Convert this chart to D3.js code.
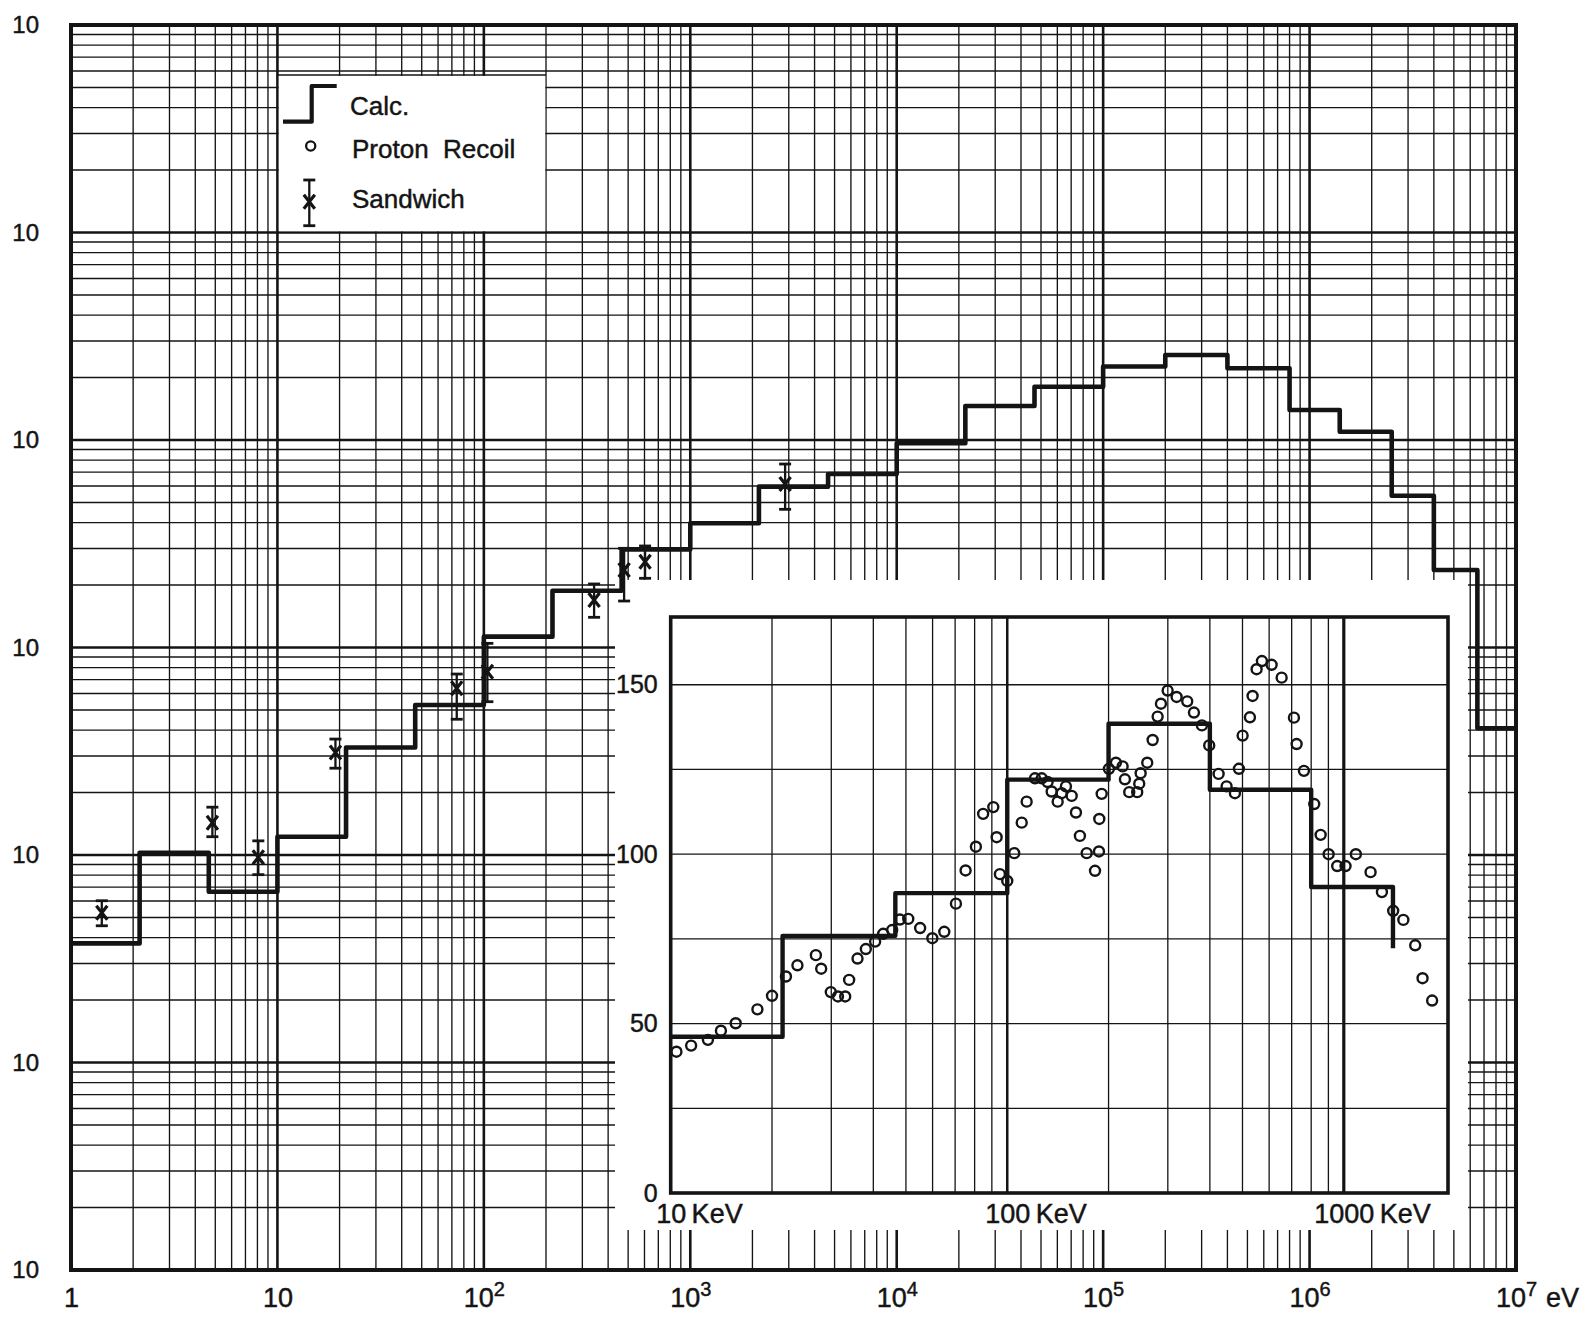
<!DOCTYPE html>
<html>
<head>
<meta charset="utf-8">
<script src="https://cdn.jsdelivr.net/npm/d3@7"></script>
<style>
  html, body { margin: 0; padding: 0; background: #fff; }
  svg { display: block; }
</style>
</head>
<body>
<svg id="chart" width="1584" height="1323"></svg>
<script>
// ---- Main panel: calculated group spectrum (26-group structure, eV) ----
const calcEdges = [1, 2.15, 4.65, 10, 21.5, 46.5, 100, 215, 465, 1000, 2150, 4650,
  1e4, 2.15e4, 4.65e4, 1e5, 2e5, 4e5, 8e5, 1.4e6, 2.5e6, 4e6, 6.5e6, 1e7];
const calcFlux = [37.5, 102.6, 66.5, 122.5, 329.5, 528, 1128, 1878, 2972, 3970, 5960,
  6860, 9640, 14580, 18070, 22600, 25700, 22170, 13950, 10960, 5390, 2362, 408];

// ---- Main panel: sandwich foil measurements with error bars ----
const sandwichE    = [1.41, 4.84, 8.08, 19.1, 73.9, 104, 342, 478, 604, 2880];
const sandwichFlux = [52.7, 143, 97.5, 312, 636, 764, 1694, 2362, 2592, 6140];
const sandwichLow  = [45.6, 122.5, 80.4, 262, 451, 548, 1398, 1675, 2155, 4634];
const sandwichHigh = [60.2, 170, 117, 362, 745, 1047, 2024, 3006, 3085, 7660];

// ---- Main panel tick labels ----
const xDecades = [1, 10, 1e2, 1e3, 1e4, 1e5, 1e6, 1e7];
const xTickBase = ["1", "10", "10", "10", "10", "10", "10", "10"];
const xTickSup  = ["", "", "2", "3", "4", "5", "6", "7"];
const yDecades = [1, 10, 1e2, 1e3, 1e4, 1e5, 1e6];
const yTickLabels = ["10", "10", "10", "10", "10", "10", "10"];

// ---- Inset: linear spectrum 10 keV .. 2 MeV ----
const insetEdges = [10, 21.5, 46.5, 100, 200, 400, 800, 1400];   // keV
const insetCalc  = [46.1, 75.9, 88.5, 122.0, 138.5, 119.0, 90.3];
const insetCalcTail = 72.2;                                       // end of last drop
const recoilE = [10.4, 11.5, 12.9, 14.1, 15.6, 18.1, 20.0, 22.0, 23.8, 27.0,
  28.0, 29.9, 31.4, 33.0, 33.9, 35.9, 38.0, 40.5, 42.8, 45.5,
  48.0, 50.8, 55.1, 59.9, 65.0, 70.4, 75.2, 80.7, 84.8, 90.9,
  93.0, 95.1, 100, 104.9, 110.4, 114.2, 120.9, 126.6, 131.8, 135.5,
  141.2, 145.1, 149.4, 155.4, 160.0, 164.4, 172.2, 182.3, 187.3, 187.7,
  190.8, 200.5, 210.3, 220.2, 223.7, 230.4, 243.3, 246.7, 249.1, 260.6,
  270.4, 279.8, 286.2, 299.6, 318.6, 342.6, 358.7, 378.8, 398.2, 424.6,
  448.5, 474.8, 488.0, 500.5, 526.1, 535.8, 550.7, 571.1, 610.3, 653.6,
  711.0, 724.2, 761.3, 816.9, 853.4, 901.4, 955.9, 1012, 1086, 1201,
  1298, 1402, 1503, 1630, 1714, 1830];
const recoilFlux = [41.7, 43.5, 45.2, 47.9, 50.1, 54.2, 58.2, 63.9, 67.2, 70.2,
  66.2, 59.3, 58.0, 58.0, 62.9, 69.2, 72.0, 74.2, 76.5, 77.6,
  80.7, 80.9, 78.2, 75.2, 77.1, 85.4, 95.2, 102.2, 111.9, 113.9,
  105.0, 94.1, 92.1, 100.3, 109.3, 115.5, 122.4, 122.4, 121.3, 118.5,
  115.5, 118.0, 120.0, 117.2, 112.3, 105.4, 100.3, 95.1, 100.8, 110.4,
  117.8, 125.2, 127.0, 125.9, 122.1, 118.3, 118.3, 120.8, 123.9, 127.0,
  133.7, 140.6, 144.4, 148.3, 146.4, 145.1, 141.8, 138.0, 132.1, 123.7,
  120.0, 118.0, 125.2, 135.0, 140.4, 146.7, 154.6, 157.0, 155.9, 152.1,
  140.3, 132.5, 124.6, 114.8, 105.7, 100.0, 96.5, 96.5, 100.0, 94.7,
  88.8, 83.3, 80.6, 73.1, 63.4, 56.8];
const insetYTicks = [0, 50, 100, 150];
const insetXTicks = [10, 100, 1000];
const insetXLabels = ["10", "100", "1000"];
const insetXUnit = "KeV";

const legendLabels = ["Calc.", "Proton  Recoil", "Sandwich"];

// ---------------------------------------------------------------------
const INK = "#141414";
const fontNarrow = "'Liberation Sans Narrow', 'Liberation Sans', Arial, sans-serif";
const fontRegular = "'Liberation Sans', Arial, sans-serif";

const svg = d3.select("#chart");

// printed text is slightly heavier than the plain face
function inkText(sel) {
  sel.attr("fill", INK).attr("stroke", INK).attr("stroke-width", 0.45);
}

// main plot area
const M = { left: 71, right: 1516, top: 25, bottom: 1270 };
const x = d3.scaleLog().domain([1, 1e7]).range([M.left, M.right]);
const y = d3.scaleLog().domain([1, 1e6]).range([M.bottom, M.top]);

// ---- log-paper grid ----
const grid = svg.append("g").attr("stroke", INK);
for (let d = 0; d < 7; d++) {
  for (let k = 1; k <= 9; k++) {
    const v = k * Math.pow(10, d);
    if (v <= 1 || v >= 1e7) continue;
    grid.append("line")
      .attr("x1", x(v)).attr("x2", x(v))
      .attr("y1", M.top).attr("y2", M.bottom)
      .attr("stroke-width", k === 1 ? 2.6 : 1.35);
  }
}
for (let d = 0; d < 6; d++) {
  for (let k = 1; k <= 9; k++) {
    const v = k * Math.pow(10, d);
    if (v <= 1 || v >= 1e6) continue;
    grid.append("line")
      .attr("x1", M.left).attr("x2", M.right)
      .attr("y1", y(v)).attr("y2", y(v))
      .attr("stroke-width", k === 1 ? 2.6 : 1.35);
  }
}

// ---- inset area blanked out of the grid ----
const I = { left: 670.7, right: 1448, top: 617, bottom: 1193 };
svg.append("rect")
  .attr("x", 615).attr("y", 580)
  .attr("width", 1468 - 615).attr("height", 1230 - 580)
  .attr("fill", "#fff");

// ---- legend box (its left, right and bottom edges are grid lines) ----
const lgL = x(10), lgR = x(200), lgT = 75, lgB = y(1e5);
svg.append("rect")
  .attr("x", lgL + 1.4).attr("y", lgT + 0.8)
  .attr("width", lgR - lgL - 2.2).attr("height", lgB - lgT - 2.1)
  .attr("fill", "#fff");
svg.append("line")
  .attr("x1", lgL).attr("x2", lgR).attr("y1", lgT).attr("y2", lgT)
  .attr("stroke", INK).attr("stroke-width", 1.5);

// ---- frame ----
svg.append("rect")
  .attr("x", M.left).attr("y", M.top)
  .attr("width", M.right - M.left).attr("height", M.bottom - M.top)
  .attr("fill", "none").attr("stroke", INK).attr("stroke-width", 4);

// ---- calculated spectrum (step line) ----
const calcPts = calcEdges.map((e, i) => [e, calcFlux[Math.min(i, calcFlux.length - 1)]]);
svg.append("path")
  .datum(calcPts)
  .attr("d", d3.line().x(d => x(d[0])).y(d => y(d[1])).curve(d3.curveStepAfter))
  .attr("fill", "none").attr("stroke", INK)
  .attr("stroke-width", 4.6).attr("stroke-linejoin", "round");

// ---- sandwich points ----
function sandwichMark(g, cx, cy, lo, hi) {
  g.append("line").attr("x1", cx).attr("x2", cx).attr("y1", lo).attr("y2", hi)
    .attr("stroke", INK).attr("stroke-width", 2.3);
  [lo, hi].forEach(yy => g.append("line")
    .attr("x1", cx - 6).attr("x2", cx + 6).attr("y1", yy).attr("y2", yy)
    .attr("stroke", INK).attr("stroke-width", 2.8));
  g.append("path")
    .attr("d", `M${cx - 5.5},${cy - 7}L${cx + 5.5},${cy + 7}M${cx + 5.5},${cy - 7}L${cx - 5.5},${cy + 7}`)
    .attr("stroke", INK).attr("stroke-width", 3.2).attr("fill", "none");
}
const sw = svg.append("g");
sandwichE.forEach((e, i) => {
  sandwichMark(sw, x(e), y(sandwichFlux[i]), y(sandwichLow[i]), y(sandwichHigh[i]));
});

// ---- main axes (labels only) ----
const xAxis = d3.axisBottom(x).tickValues(xDecades).tickSize(0).tickPadding(0)
  .tickFormat((d, i) => xTickBase[i]);
const gx = svg.append("g").attr("transform", `translate(0,${M.bottom})`).call(xAxis);
gx.select(".domain").remove();
gx.selectAll("text")
  .attr("y", 37).attr("dy", null)
  .attr("font-family", fontNarrow).attr("font-size", 27)
  .call(inkText)
  .each(function (d, i) {
    if (xTickSup[i]) {
      d3.select(this).append("tspan")
        .attr("dy", -11).attr("font-size", 20).text(xTickSup[i]);
    }
  });
svg.append("text")
  .attr("x", x(1e7) + 30).attr("y", M.bottom + 37)
  .attr("font-family", fontNarrow).attr("font-size", 27)
  .call(inkText)
  .text("eV");

const yAxis = d3.axisLeft(y).tickValues(yDecades).tickSize(0).tickPadding(32)
  .tickFormat((d, i) => yTickLabels[i]);
const gy = svg.append("g").attr("transform", `translate(${M.left},0)`).call(yAxis);
gy.select(".domain").remove();
gy.selectAll("text")
  .attr("font-family", fontNarrow).attr("font-size", 24)
  .call(inkText);

// ---- legend ----
const lg = svg.append("g");
lg.append("path").attr("d", "M283,121.7H311.7V86H336.7")
  .attr("fill", "none").attr("stroke", INK).attr("stroke-width", 4.2)
  .attr("stroke-linejoin", "round");
lg.append("circle").attr("cx", 310.7).attr("cy", 146).attr("r", 4.6)
  .attr("fill", "none").attr("stroke", INK).attr("stroke-width", 2.3);
sandwichMark(lg, 309.3, 201.7, 225.7, 180);
const lgText = [[350, 115], [352, 158.3], [352, 207.7]];
legendLabels.forEach((t, i) => {
  lg.append("text")
    .attr("x", lgText[i][0]).attr("y", lgText[i][1])
    .attr("font-family", fontRegular).attr("font-size", 26)
    .call(inkText)
    .style("white-space", "pre")
    .text(t);
});

// ---- inset ----
const xi = d3.scaleLog().domain([10, 2040]).range([I.left, I.right]);
const yi = d3.scaleLinear().domain([0, 170]).range([I.bottom, I.top]);

const ig = svg.append("g").attr("stroke", INK);
[10, 100].forEach(base => {
  for (let k = 2; k <= 10; k++) {
    const v = k * base;
    ig.append("line")
      .attr("x1", xi(v)).attr("x2", xi(v)).attr("y1", I.top).attr("y2", I.bottom)
      .attr("stroke-width", k === 10 ? (v === 1000 ? 3.2 : 2.5) : 1.3);
  }
});
d3.range(25, 170, 25).forEach(v => {
  ig.append("line")
    .attr("x1", I.left).attr("x2", I.right).attr("y1", yi(v)).attr("y2", yi(v))
    .attr("stroke-width", 1.3);
});
svg.append("rect")
  .attr("x", I.left).attr("y", I.top)
  .attr("width", I.right - I.left).attr("height", I.bottom - I.top)
  .attr("fill", "none").attr("stroke", INK).attr("stroke-width", 3.6);

const insetPts = insetEdges.map((e, i) => [e, i < insetCalc.length ? insetCalc[i] : insetCalcTail]);
svg.append("path")
  .datum(insetPts)
  .attr("d", d3.line().x(d => xi(d[0])).y(d => yi(d[1])).curve(d3.curveStepAfter))
  .attr("fill", "none").attr("stroke", INK)
  .attr("stroke-width", 4.4).attr("stroke-linejoin", "round");

svg.append("g").selectAll("circle")
  .data(recoilE.map((e, i) => [e, recoilFlux[i]]))
  .join("circle")
  .attr("cx", d => xi(d[0])).attr("cy", d => yi(d[1])).attr("r", 5)
  .attr("fill", "none").attr("stroke", INK).attr("stroke-width", 2.4);

// inset axes
const yiAxis = d3.axisLeft(yi).tickValues(insetYTicks).tickSize(0).tickPadding(13);
const giy = svg.append("g").attr("transform", `translate(${I.left},0)`).call(yiAxis);
giy.select(".domain").remove();
giy.selectAll("text").attr("font-family", fontNarrow).attr("font-size", 25).call(inkText);

const xiAxis = d3.axisBottom(xi).tickValues(insetXTicks).tickSize(0).tickPadding(0)
  .tickFormat((d, i) => insetXLabels[i]);
const gix = svg.append("g").attr("transform", `translate(0,${I.bottom})`).call(xiAxis);
gix.select(".domain").remove();
gix.selectAll("text")
  .attr("y", 30).attr("dy", null)
  .attr("font-family", fontNarrow).attr("font-size", 27)
  .call(inkText)
  .each(function () {
    // keep the number centred on its grid line, unit follows it
    const t = d3.select(this);
    const w = this.getComputedTextLength();
    t.attr("text-anchor", "start").attr("x", -w / 2);
    t.append("tspan").text("\u2009" + insetXUnit);
  });
</script>
</body>
</html>
